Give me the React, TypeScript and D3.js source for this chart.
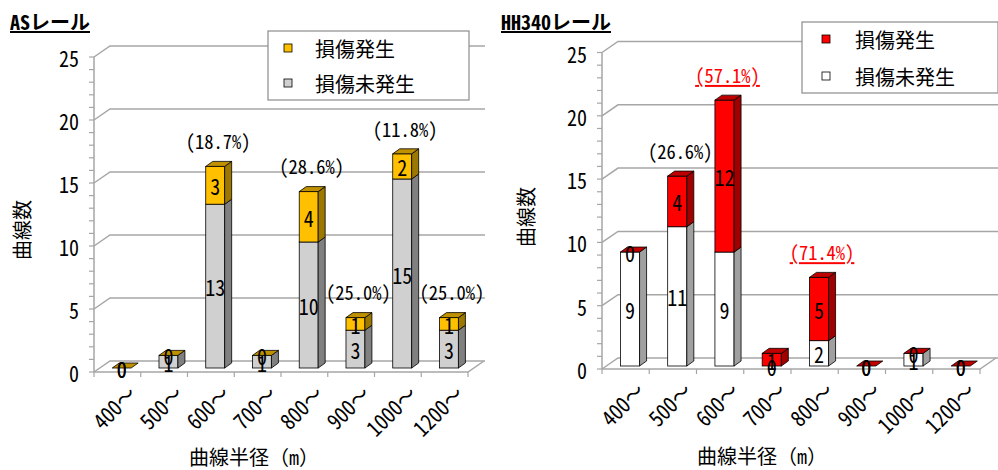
import React from 'react';
import * as d3 from 'd3';

// Curve radius classes shared by both panels
const categories = ['400～', '500～', '600～', '700～', '800～', '900～', '1000～', '1200～'];

// AS rail: curves without / with damage
const asUndamaged = [0, 1, 13, 1, 10, 3, 15, 3];
const asDamaged = [0, 0, 3, 0, 4, 1, 2, 1];
const asRates = ['', '', '(18.7%)', '', '(28.6%)', '(25.0%)', '(11.8%)', '(25.0%)'];
const asRateHighlight = [false, false, false, false, false, false, false, false];

// HH340 rail: curves without / with damage
const hhUndamaged = [9, 11, 9, 0, 2, 0, 1, 0];
const hhDamaged = [0, 4, 12, 1, 5, 0, 0, 0];
const hhRates = ['', '(26.6%)', '(57.1%)', '', '(71.4%)', '', '', ''];
const hhRateHighlight = [false, false, true, false, true, false, false, false];

const yTicks = [0, 5, 10, 15, 20, 25];
const yMax = 25;
const legendLabels = ['損傷発生', '損傷未発生'];
const yTitle = '曲線数';
const xTitle = '曲線半径（m）';

const FONT = '"Noto Sans Mono CJK JP", "Noto Sans CJK JP", sans-serif';
const GRID = '#a6a6a6';

type Face = { front: string; side: string; top: string };

type Frame = {
  x0: number; x1: number; y0: number; yTop: number; wallRight: number; lift: number;
  titleX: number; yTitleX: number; yTitleY: number; xTitleX: number; xTitleY: number;
  legend: { x: number; y: number; w: number; h: number; sqX: number; textX: number; rows: number[] };
};

// Narrow, tall numerals: text drawn at the origin of a stretched group
function Num({ x, y, size, stretch = 1.1, anchor = 'middle', rotate = 0, fill = '#000', underline = false, children }: {
  x: number; y: number; size: number; stretch?: number; anchor?: string; rotate?: number; fill?: string;
  underline?: boolean; children: React.ReactNode;
}) {
  return (
    <text transform={`translate(${x},${y}) rotate(${rotate}) scale(1,${stretch})`} textAnchor={anchor}
      dominantBaseline="central" fontSize={size} fill={fill}
      textDecoration={underline ? 'underline' : undefined}>{children}</text>
  );
}

function Panel({ title, undamaged, damaged, rates, highlight, dmgFace, okFace, frame }: {
  title: string; undamaged: number[]; damaged: number[]; rates: string[]; highlight: boolean[];
  dmgFace: Face; okFace: Face; frame: Frame;
}) {
  const { x0, x1, y0, yTop, wallRight, lift, legend } = frame;
  const wdx = 16, wdy = -11; // wall depth
  const bdx = 7, bdy = -5;   // bar depth
  const x = d3.scaleBand<string>().domain(categories).range([x0, x1]);
  const y = d3.scaleLinear().domain([0, yMax]).range([y0, yTop]);
  const bw = x.bandwidth();
  const barW = bw * 0.405;
  const barOff = bw * 0.39;
  const minor = d3.range(0, yMax + 1);

  const box = (bx: number, yb: number, yt: number, face: Face, key: string) => (
    <g key={key}>
      <rect x={bx} y={yt} width={barW} height={yb - yt} fill={face.front} stroke="#000" strokeWidth={0.8} />
      <path d={`M${bx + barW},${yb}L${bx + barW + bdx},${yb + bdy}L${bx + barW + bdx},${yt + bdy}L${bx + barW},${yt}Z`}
        fill={face.side} stroke="#000" strokeWidth={0.8} />
    </g>
  );

  return (
    <g fontFamily={FONT}>
      {/* title */}
      <text x={frame.titleX} y={30} fontSize={20} fontWeight="bold" textDecoration="underline" fill="#000">{title}</text>

      {/* back wall gridlines and left wall */}
      {yTicks.map(t => (
        <path key={'g' + t} d={`M${x0},${y(t)}L${x0 + wdx},${y(t) + wdy}L${wallRight},${y(t) + wdy}`}
          fill="none" stroke={GRID} strokeWidth={1.5} />
      ))}
      {/* floor */}
      <path d={`M${x0},${y0}L${x1},${y0}L${x1 + wdx},${y0 + wdy}`} fill="none" stroke={GRID} strokeWidth={1.5} />
      {/* value axis */}
      <line x1={x0} x2={x0} y1={y0} y2={yTop} stroke={GRID} strokeWidth={1.5} />
      {minor.map(v => (
        <line key={'m' + v} x1={x0 - 5} x2={x0} y1={y(v)} y2={y(v)} stroke={GRID} strokeWidth={1.2} />
      ))}
      {yTicks.map(t => (
        <Num key={'yl' + t} x={x0 - 15} y={y(t)} size={20} stretch={1.12} anchor="end">{t}</Num>
      ))}
      {/* category ticks */}
      {d3.range(0, categories.length + 1).map(i => (
        <line key={'xt' + i} x1={x0 + i * bw} x2={x0 + i * bw} y1={y0} y2={y0 + 5} stroke={GRID} strokeWidth={1.2} />
      ))}
      {categories.map(c => (
        <Num key={'xl' + c} x={(x(c) as number) + bw / 2 + 14} y={y0 + 17} size={20} stretch={1.1}
          anchor="end" rotate={-45}>{c}</Num>
      ))}

      {/* stacked 3D bars */}
      {categories.map((c, i) => {
        const bx = (x(c) as number) + barOff;
        const yb = y(0) - lift;
        const ym = y(undamaged[i]) - lift;
        const yt = y(undamaged[i] + damaged[i]) - lift;
        return (
          <g key={'b' + c}>
            {undamaged[i] > 0 && box(bx, yb, ym, okFace, 'u')}
            {damaged[i] > 0 && box(bx, ym, yt, dmgFace, 'd')}
            <path d={`M${bx},${yt}L${bx + bdx},${yt + bdy}L${bx + barW + bdx},${yt + bdy}L${bx + barW},${yt}Z`}
              fill={dmgFace.top} stroke="#000" strokeWidth={0.8} />
          </g>
        );
      })}

      {/* segment values */}
      {categories.map((c, i) => {
        const cx = (x(c) as number) + barOff + barW / 2;
        const yb = y(0) - lift;
        const ym = y(undamaged[i]) - lift;
        const yt = y(undamaged[i] + damaged[i]) - lift;
        return (
          <g key={'v' + c}>
            <Num x={cx} y={(yb + ym) / 2} size={20} stretch={1.12}>{undamaged[i]}</Num>
            <Num x={cx} y={(ym + yt) / 2} size={20} stretch={1.12}>{damaged[i]}</Num>
          </g>
        );
      })}

      {/* damage rates */}
      {categories.map((c, i) => rates[i] ? (
        <Num key={'r' + c} x={(x(c) as number) + barOff + barW / 2 + 3}
          y={y(undamaged[i] + damaged[i]) - lift - 26} size={18.5} stretch={1.06}
          fill={highlight[i] ? '#ff0000' : '#000'} underline={highlight[i]}>{rates[i]}</Num>
      ) : null)}

      {/* axis titles */}
      <text transform={`translate(${frame.yTitleX},${frame.yTitleY}) rotate(-90)`} textAnchor="middle"
        dominantBaseline="central" fontSize={20} fill="#000">{yTitle}</text>
      <text x={frame.xTitleX} y={frame.xTitleY} textAnchor="middle" dominantBaseline="central" fontSize={20} fill="#000">{xTitle}</text>

      {/* legend */}
      <rect x={legend.x} y={legend.y} width={legend.w} height={legend.h} fill="#fff" stroke="#8c8c8c" strokeWidth={1.2} />
      {legendLabels.map((l, i) => (
        <g key={'lg' + l}>
          <rect x={legend.sqX} y={legend.rows[i] - 4} width={8} height={8}
            fill={i === 0 ? dmgFace.front : okFace.front} stroke="#000" strokeWidth={0.8} />
          <text x={legend.textX} y={legend.rows[i]} dominantBaseline="central" fontSize={20} fill="#000">{l}</text>
        </g>
      ))}
    </g>
  );
}

export default function App() {
  const leftFrame: Frame = {
    x0: 94, x1: 468, y0: 372, yTop: 57, wallRight: 485, lift: 4,
    titleX: 10, yTitleX: 21, yTitleY: 230, xTitleX: 254, xTitleY: 456,
    legend: { x: 268, y: 31, w: 201, h: 69, sqX: 284, textX: 315, rows: [48, 83] },
  };
  const rightFrame: Frame = {
    x0: 602, x1: 980, y0: 369, yTop: 52.5, wallRight: 998, lift: 3,
    titleX: 501, yTitleX: 525, yTitleY: 217, xTitleX: 762, xTitleY: 455,
    legend: { x: 802, y: 22, w: 196, h: 71, sqX: 822, textX: 855, rows: [39, 76] },
  };
  return (
    <svg width={998} height={470} style={{ position: 'absolute', left: 0, top: 0, background: '#fff' }}>
      <rect width={998} height={470} fill="#fff" />
      <Panel title="ASレール" undamaged={asUndamaged} damaged={asDamaged} rates={asRates} highlight={asRateHighlight}
        dmgFace={{ front: '#ffc000', side: '#9c7800', top: '#bf9000' }}
        okFace={{ front: '#d0d0d0', side: '#808080', top: '#a6a6a6' }} frame={leftFrame} />
      <Panel title="HH340レール" undamaged={hhUndamaged} damaged={hhDamaged} rates={hhRates} highlight={hhRateHighlight}
        dmgFace={{ front: '#ff0000', side: '#a00000', top: '#c00000' }}
        okFace={{ front: '#ffffff', side: '#a0a0a0', top: '#d0d0d0' }} frame={rightFrame} />
    </svg>
  );
}
